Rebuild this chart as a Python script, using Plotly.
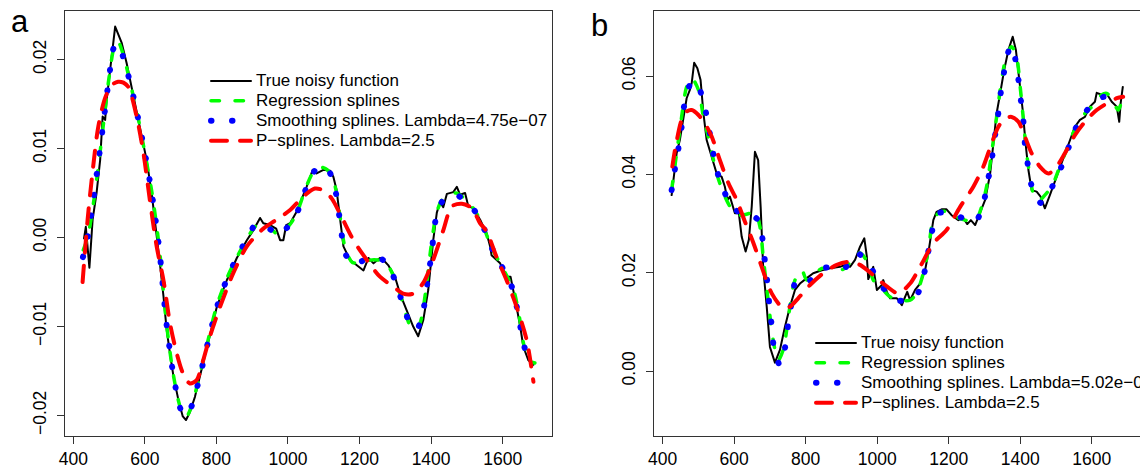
import plotly.graph_objects as go

# ---------------- Panel a data ----------------
a_true_x = [430, 435, 445, 454, 465, 475, 482, 489, 493, 503, 512, 517, 526, 535, 549, 563, 577, 591,
            605, 619, 633, 642, 652, 661, 670, 680, 694, 706, 715, 726, 740, 754, 773, 791, 801, 829,
            857, 885, 903, 922, 931, 950, 967, 978, 987, 995, 1006, 1024, 1038, 1052, 1062, 1069, 1080,
            1099, 1118, 1127, 1136, 1145, 1155, 1173, 1192, 1211, 1225, 1239, 1257, 1266, 1280, 1299,
            1313, 1332, 1350, 1364, 1378, 1392, 1406, 1416, 1425, 1434, 1444, 1462, 1472, 1481, 1495,
            1504, 1518, 1537, 1555, 1565, 1569, 1593, 1611, 1622, 1630, 1639, 1649, 1658, 1672, 1686]
a_true_y = [-0.0001, 0.0012, -0.0034, 0.0020, 0.0050, 0.0087, 0.0136, 0.0132, 0.0154, 0.0188, 0.0216,
            0.0237, 0.0228, 0.0219, 0.0196, 0.0169, 0.0140, 0.0113, 0.0087, 0.0050, 0.0005, -0.0029,
            -0.0066, -0.0104, -0.0130, -0.0156, -0.0183, -0.0201, -0.0205, -0.0196, -0.0179, -0.0156,
            -0.0126, -0.0096, -0.0078, -0.0048, -0.0023, -0.0003, 0.0008, 0.0022, 0.0016, 0.0014,
            0.0010, -0.0003, -0.0003, 0.0014, 0.0016, 0.0029, 0.0042, 0.0057, 0.0068, 0.0076, 0.0072,
            0.0076, 0.0075, 0.0068, 0.0053, 0.0023, -0.0010, -0.0025, -0.0031, -0.0037, -0.0023,
            -0.0029, -0.0023, -0.0025, -0.0031, -0.0044, -0.0063, -0.0082, -0.0100, -0.0111, -0.0093,
            -0.0059, -0.0003, 0.0028, 0.0040, 0.0034, 0.0049, 0.0051, 0.0057, 0.0048, 0.0050, 0.0035,
            0.0033, 0.0020, 0.0005, -0.0010, -0.0020, -0.0029, -0.0044, -0.0044, -0.0059, -0.0078,
            -0.0100, -0.0123, -0.0138, -0.0143]

a_reg_x = [428, 440, 455, 470, 485, 500, 515, 525, 540, 560, 580, 600, 620, 640, 660, 680, 700, 715,
           730, 750, 775, 800, 830, 860, 890, 910, 930, 950, 970, 990, 1010, 1030, 1050, 1070, 1090,
           1110, 1130, 1145, 1160, 1180, 1200, 1220, 1240, 1260, 1280, 1300, 1320, 1340, 1355, 1370,
           1385, 1400, 1415, 1430, 1450, 1470, 1490, 1510, 1530, 1550, 1570, 1590, 1610, 1630, 1645,
           1660, 1675, 1690]
a_reg_y = [-0.0014, 0.0000, 0.0035, 0.0080, 0.0130, 0.0180, 0.0215, 0.0220, 0.0205, 0.0172, 0.0137,
           0.0095, 0.0050, -0.0010, -0.0095, -0.0155, -0.0192, -0.0202, -0.0190, -0.0160, -0.0118,
           -0.0078, -0.0045, -0.0020, 0.0002, 0.0013, 0.0016, 0.0011, 0.0004, 0.0008, 0.0017, 0.0033,
           0.0056, 0.0073, 0.0079, 0.0076, 0.0060, 0.0025, -0.0012, -0.0028, -0.0028, -0.0026,
           -0.0025, -0.0026, -0.0032, -0.0048, -0.0072, -0.0098, -0.0104, -0.0095, -0.0060, -0.0010,
           0.0027, 0.0042, 0.0048, 0.0050, 0.0045, 0.0037, 0.0025, 0.0008, -0.0012, -0.0027, -0.0042,
           -0.0058, -0.0085, -0.0122, -0.0138, -0.0141]

a_smooth_x = [427, 440, 455, 470, 485, 500, 512, 522, 535, 560, 580, 600, 620, 640, 660, 680, 700, 712,
              730, 750, 775, 800, 830, 860, 890, 910, 930, 955, 975, 995, 1015, 1035, 1055, 1075, 1095,
              1115, 1130, 1145, 1160, 1185, 1210, 1240, 1265, 1285, 1305, 1325, 1345, 1360, 1375, 1390,
              1402, 1415, 1430, 1450, 1470, 1490, 1510, 1530, 1550, 1570, 1590, 1610, 1630, 1645, 1660,
              1675, 1688]
a_smooth_y = [-0.0022, 0.0000, 0.0040, 0.0085, 0.0132, 0.0180, 0.0212, 0.0218, 0.0208, 0.0172, 0.0136,
              0.0095, 0.0048, -0.0012, -0.0095, -0.0155, -0.0193, -0.0200, -0.0190, -0.0162, -0.0120,
              -0.0080, -0.0046, -0.0020, 0.0002, 0.0015, 0.0014, 0.0008, 0.0003, 0.0010, 0.0020, 0.0037,
              0.0060, 0.0075, 0.0080, 0.0074, 0.0058, 0.0020, -0.0018, -0.0031, -0.0026, -0.0024,
              -0.0025, -0.0035, -0.0055, -0.0080, -0.0100, -0.0103, -0.0088, -0.0050, -0.0015, 0.0025,
              0.0040, 0.0047, 0.0048, 0.0043, 0.0036, 0.0025, 0.0008, -0.0012, -0.0027, -0.0042,
              -0.0060, -0.0090, -0.0122, -0.0138, -0.0143]

a_p_x = [426, 440, 455, 470, 490, 510, 525, 540, 554, 577, 596, 614, 633, 652, 670, 689, 707, 726, 745,
         763, 782, 810, 847, 885, 931, 968, 1006, 1043, 1075, 1099, 1122, 1150, 1183, 1220, 1257, 1294,
         1322, 1350, 1378, 1406, 1434, 1458, 1486, 1514, 1537, 1555, 1583, 1611, 1639, 1667, 1686]
a_p_y = [-0.0050, 0.0020, 0.0078, 0.0125, 0.0158, 0.0172, 0.0175, 0.0174, 0.0169, 0.0136, 0.0095,
         0.0042, -0.0010, -0.0048, -0.0096, -0.0130, -0.0153, -0.0164, -0.0160, -0.0138, -0.0111,
         -0.0078, -0.0040, -0.0010, 0.0010, 0.0020, 0.0031, 0.0046, 0.0055, 0.0053, 0.0044, 0.0023,
         -0.0003, -0.0025, -0.0044, -0.0055, -0.0063, -0.0063, -0.0051, -0.0025, 0.0008, 0.0035,
         0.0038, 0.0033, 0.0016, 0.0007, -0.0022, -0.0048, -0.0078, -0.0115, -0.0162]

# ---------------- Panel b data ----------------
b_true_x = [425, 430, 439, 448, 458, 467, 476, 481, 488, 497, 506, 514, 523, 537, 551, 565, 574, 581,
            588, 602, 613, 621, 632, 641, 649, 658, 667, 674, 681, 691, 700, 714, 728, 742, 756, 770,
            784, 803, 821, 845, 868, 896, 910, 924, 938, 952, 964, 971, 975, 989, 999, 1013, 1017,
            1027, 1036, 1055, 1069, 1078, 1084, 1092, 1106, 1120, 1134, 1143, 1157, 1166, 1180, 1194,
            1208, 1227, 1241, 1252, 1262, 1274, 1288, 1302, 1316, 1325, 1334, 1344, 1355, 1367, 1379,
            1388, 1398, 1407, 1415, 1423, 1432, 1446, 1457, 1469, 1483, 1502, 1521, 1539, 1553, 1567,
            1581, 1595, 1609, 1614, 1628, 1642, 1656, 1670, 1677, 1681, 1687]
b_true_y = [0.0358, 0.0389, 0.0443, 0.0470, 0.0511, 0.0555, 0.0572, 0.0585, 0.0627, 0.0616, 0.0592,
            0.0524, 0.0470, 0.0436, 0.0402, 0.0395, 0.0375, 0.0348, 0.0355, 0.0321, 0.0321, 0.0273,
            0.0243, 0.0267, 0.0334, 0.0446, 0.0429, 0.0334, 0.0212, 0.0131, 0.0049, 0.0017, 0.0043,
            0.0090, 0.0131, 0.0165, 0.0178, 0.0189, 0.0199, 0.0205, 0.0209, 0.0212, 0.0216, 0.0212,
            0.0226, 0.0253, 0.0270, 0.0233, 0.0187, 0.0212, 0.0165, 0.0175, 0.0185, 0.0161, 0.0148,
            0.0148, 0.0134, 0.0151, 0.0161, 0.0144, 0.0165, 0.0178, 0.0205, 0.0240, 0.0307, 0.0324,
            0.0329, 0.0329, 0.0317, 0.0307, 0.0311, 0.0299, 0.0307, 0.0297, 0.0321, 0.0348, 0.0402,
            0.0470, 0.0524, 0.0565, 0.0612, 0.0653, 0.0680, 0.0653, 0.0592, 0.0531, 0.0463, 0.0409,
            0.0368, 0.0365, 0.0355, 0.0331, 0.0358, 0.0395, 0.0433, 0.0470, 0.0497, 0.0511, 0.0517,
            0.0538, 0.0548, 0.0566, 0.0562, 0.0564, 0.0548, 0.0538, 0.0507, 0.0545, 0.0578]

b_reg_x = [425, 448, 467, 481, 500, 514, 532, 551, 574, 598, 616, 644, 658, 672, 681, 695, 709, 723,
           737, 756, 770, 789, 803, 821, 845, 868, 896, 915, 933, 952, 975, 989, 1008, 1036, 1064,
           1092, 1110, 1129, 1143, 1157, 1176, 1199, 1218, 1246, 1274, 1292, 1306, 1320, 1334, 1348,
           1362, 1376, 1390, 1400, 1409, 1418, 1432, 1441, 1455, 1469, 1488, 1511, 1535, 1558, 1581,
           1605, 1628, 1642, 1660, 1674, 1684]
b_reg_y = [0.0368, 0.0490, 0.0578, 0.0596, 0.0572, 0.0517, 0.0463, 0.0402, 0.0355, 0.0324, 0.0317,
           0.0321, 0.0324, 0.0294, 0.0233, 0.0144, 0.0063, 0.0022, 0.0043, 0.0131, 0.0185, 0.0205,
           0.0185, 0.0195, 0.0209, 0.0209, 0.0205, 0.0212, 0.0233, 0.0240, 0.0219, 0.0185, 0.0172,
           0.0151, 0.0144, 0.0144, 0.0158, 0.0199, 0.0246, 0.0307, 0.0324, 0.0324, 0.0314, 0.0307,
           0.0304, 0.0334, 0.0375, 0.0443, 0.0517, 0.0592, 0.0643, 0.0660, 0.0639, 0.0578, 0.0511,
           0.0443, 0.0375, 0.0351, 0.0348, 0.0358, 0.0375, 0.0416, 0.0460, 0.0500, 0.0524, 0.0541,
           0.0562, 0.0565, 0.0548, 0.0531, 0.0551]

b_smooth_x = [425, 434, 444, 453, 460, 476, 490, 509, 523, 544, 558, 581, 600, 621, 645, 667, 680, 686,
              693, 698, 705, 711, 728, 744, 751, 761, 772, 790, 811, 852, 905, 944, 983, 1013, 1057,
              1090, 1115, 1135, 1152, 1171, 1218, 1274, 1297, 1309, 1320, 1328, 1337, 1344, 1353, 1364,
              1375, 1386, 1395, 1402, 1409, 1413, 1421, 1432, 1458, 1491, 1516, 1537, 1558, 1591, 1635,
              1679]
b_smooth_y = [0.0368, 0.0410, 0.0453, 0.0497, 0.0540, 0.0582, 0.0590, 0.0562, 0.0519, 0.0433, 0.0392,
              0.0351, 0.0330, 0.0321, 0.0318, 0.0307, 0.0265, 0.0222, 0.0178, 0.0136, 0.0092, 0.0049,
              0.0012, 0.0054, 0.0097, 0.0141, 0.0183, 0.0190, 0.0184, 0.0210, 0.0207, 0.0240, 0.0209,
              0.0172, 0.0144, 0.0145, 0.0160, 0.0210, 0.0280, 0.0321, 0.0317, 0.0304, 0.0342, 0.0385,
              0.0428, 0.0471, 0.0514, 0.0558, 0.0600, 0.0643, 0.0662, 0.0636, 0.0593, 0.0550, 0.0507,
              0.0464, 0.0421, 0.0377, 0.0342, 0.0377, 0.0417, 0.0458, 0.0498, 0.0534, 0.0558, 0.0541]

b_p_x = [427, 436, 453, 467, 481, 500, 518, 537, 560, 584, 607, 630, 654, 677, 705, 737, 756, 779, 812,
         849, 887, 919, 952, 989, 1027, 1059, 1092, 1120, 1157, 1194, 1232, 1269, 1297, 1320, 1339,
         1358, 1376, 1395, 1413, 1432, 1455, 1479, 1502, 1525, 1553, 1581, 1614, 1651, 1670, 1688]
b_p_y = [0.0416, 0.0456, 0.0511, 0.0528, 0.0531, 0.0521, 0.0504, 0.0477, 0.0429, 0.0382, 0.0348,
         0.0304, 0.0260, 0.0212, 0.0158, 0.0128, 0.0131, 0.0148, 0.0175, 0.0199, 0.0216, 0.0222,
         0.0216, 0.0195, 0.0172, 0.0158, 0.0178, 0.0212, 0.0260, 0.0287, 0.0334, 0.0375, 0.0416,
         0.0463, 0.0497, 0.0514, 0.0517, 0.0507, 0.0477, 0.0443, 0.0416, 0.0402, 0.0416, 0.0443,
         0.0480, 0.0507, 0.0531, 0.0548, 0.0555, 0.0558]

# ---------------- labels / ticks ----------------
x_ticks = [400, 600, 800, 1000, 1200, 1400, 1600]
a_y_ticks = [-0.02, -0.01, 0.0, 0.01, 0.02]
a_y_labels = ["\u22120.02", "\u22120.01", "0.00", "0.01", "0.02"]
b_y_ticks = [0.0, 0.02, 0.04, 0.06]
b_y_labels = ["0.00", "0.02", "0.04", "0.06"]
names_a = ["True noisy function", "Regression splines",
           "Smoothing splines. Lambda=4.75e\u221207", "P\u2212splines. Lambda=2.5"]
names_b = ["True noisy function", "Regression splines",
           "Smoothing splines. Lambda=5.02e\u221207", "P\u2212splines. Lambda=2.5"]
panel_labels = ["a", "b"]

W, H = 1140, 470
FONT = "Liberation Sans, Arial, Helvetica, sans-serif"
LEG_TEXT_SIZE = 17     # rendered legend text size
LEG_ROW_SIZE = 13      # legend font size that sets the 20px row pitch

styles = [
    dict(color="#000000", width=2, dash="solid", shape="linear"),
    dict(color="#00ff00", width=3.5, dash="8.5px,15.5px", shape="spline"),
    dict(color="#0000ff", width=6, dash="0.5px,20.5px", shape="spline"),
    dict(color="#ff0000", width=4, dash="16px,13px", shape="spline"),
]

def leg_name(s):
    return '<span style="font-size:%.1fpx">%s</span>' % (LEG_TEXT_SIZE, s)

fig = go.Figure()

series_a = [(a_true_x, a_true_y), (a_reg_x, a_reg_y), (a_smooth_x, a_smooth_y), (a_p_x, a_p_y)]
series_b = [(b_true_x, b_true_y), (b_reg_x, b_reg_y), (b_smooth_x, b_smooth_y), (b_p_x, b_p_y)]

for (xs, ys), nm, st in zip(series_a, names_a, styles):
    fig.add_trace(go.Scatter(x=xs, y=ys, mode="lines", name=leg_name(nm), xaxis="x", yaxis="y",
                             legend="legend",
                             line=dict(color=st["color"], width=st["width"], dash=st["dash"],
                                       shape=st["shape"], smoothing=0.8)))
for (xs, ys), nm, st in zip(series_b, names_b, styles):
    fig.add_trace(go.Scatter(x=xs, y=ys, mode="lines", name=leg_name(nm), xaxis="x2", yaxis="y2",
                             legend="legend2",
                             line=dict(color=st["color"], width=st["width"], dash=st["dash"],
                                       shape=st["shape"], smoothing=0.8)))

def px_x(p):
    return p / W

def px_y(p):
    return 1 - p / H

axis_common = dict(showgrid=False, zeroline=False, showline=True, linecolor="#333333", linewidth=1,
                   ticks="outside", ticklen=7, tickwidth=1, tickcolor="#333333",
                   tickfont=dict(family=FONT, size=17.5, color="#000000"), automargin=False)

a_xrange = [376.8, 1737.9]
a_yrange = [-0.0223, 0.02545]
b_xrange = [375.7, 1735.1]
b_yrange = [-0.01322, 0.07325]

ydom = [px_y(436), px_y(11)]

legend_common = dict(xanchor="left", yanchor="top", bgcolor="rgba(0,0,0,0)", borderwidth=0,
                     itemwidth=40, tracegroupgap=0,
                     font=dict(family=FONT, size=LEG_ROW_SIZE, color="#000000"))

fig.update_layout(
    width=W, height=H,
    margin=dict(l=0, r=0, t=0, b=0, autoexpand=False),
    paper_bgcolor="white", plot_bgcolor="white",
    font=dict(family=FONT, color="#000000"),
    xaxis=dict(domain=[px_x(65), px_x(552)], range=a_xrange, tickvals=x_ticks, mirror=True,
               anchor="y", **axis_common),
    yaxis=dict(domain=ydom, range=a_yrange, tickvals=a_y_ticks, ticktext=a_y_labels, mirror=True,
               tickangle=-90, anchor="x", ticklabelstandoff=4, **axis_common),
    xaxis2=dict(domain=[px_x(654), 1.0], range=b_xrange, tickvals=x_ticks, mirror=True,
                anchor="y2", **axis_common),
    yaxis2=dict(domain=ydom, range=b_yrange, tickvals=b_y_ticks, ticktext=b_y_labels, mirror=False,
                tickangle=-90, anchor="x2", ticklabelstandoff=4, **axis_common),
    legend=dict(x=px_x(206), y=px_y(66), **legend_common),
    legend2=dict(x=px_x(811), y=px_y(328), **legend_common),
    showlegend=True,
    annotations=[
        dict(text=panel_labels[0], x=px_x(20), y=px_y(21), xref="paper", yref="paper",
             xanchor="center", yanchor="middle", showarrow=False,
             font=dict(family=FONT, size=31, color="#000000")),
        dict(text=panel_labels[1], x=px_x(599), y=px_y(26), xref="paper", yref="paper",
             xanchor="center", yanchor="middle", showarrow=False,
             font=dict(family=FONT, size=31, color="#000000")),
    ],
)

post = ("document.body.style.margin='0';document.body.style.padding='0';"
        "var s=document.createElement('style');"
        "s.textContent='html,body{margin:0;padding:0;overflow:hidden}"
        ".js-line{stroke-linecap:round;stroke-linejoin:round;}';"
        "document.head.appendChild(s);")
fig.write_html("out.html", post_script=post, config={"displayModeBar": False})
